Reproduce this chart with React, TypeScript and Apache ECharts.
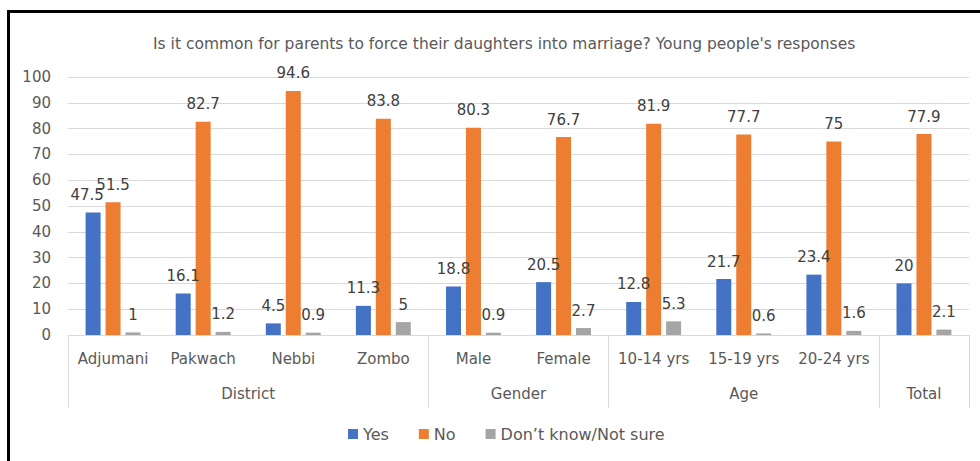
import React, { useEffect, useRef } from "react";
import * as echarts from "echarts";

const categories = [
  "Adjumani",
  "Pakwach",
  "Nebbi",
  "Zombo",
  "Male",
  "Female",
  "10-14 yrs",
  "15-19 yrs",
  "20-24 yrs",
  "",
];

// Outer grouping: name, first index, count
const groupNames = ["District", "Gender", "Age", "Total"];
const groupStarts = [0, 4, 6, 9];
const groupSizes = [4, 2, 3, 1];

const yesValues = [47.5, 16.1, 4.5, 11.3, 18.8, 20.5, 12.8, 21.7, 23.4, 20];
const noValues = [51.5, 82.7, 94.6, 83.8, 80.3, 76.7, 81.9, 77.7, 75, 77.9];
const dontKnowValues = [1, 1.2, 0.9, 5, 0.9, 2.7, 5.3, 0.6, 1.6, 2.1];

const titleText =
  "Is it common for parents to force their daughters into marriage? Young people's responses";

const FONT = "'DejaVu Sans', 'Noto Sans', sans-serif";
const TEXT = "#595959";
const GRID = "#d9d9d9";

export default function App() {
  const ref = useRef<HTMLDivElement>(null);

  useEffect(() => {
    if (!ref.current) return;
    const chart = echarts.init(ref.current, null, { renderer: "svg" });

    const boundaries = [...groupStarts, categories.length];
    const groupCenters = groupStarts.map((s, i) => s + groupSizes[i] / 2);

    const labelStyle = {
      show: true,
      position: "top" as const,
      distance: 10,
      color: "#404040",
      fontSize: 15,
      fontFamily: FONT,
    };

    const barSeries = (name: string, data: any[], color: string) => ({
      name,
      type: "bar" as const,
      data,
      barWidth: 15,
      barGap: "33%",
      itemStyle: { color },
      label: labelStyle,
    });

    // The Adjumani "Yes" label sits a little left so it clears its neighbour
    const yesData = yesValues.map((v, i) =>
      i === 0 ? { value: v, label: { offset: [-6, 0] } } : v
    );

    chart.setOption({
      animation: false,
      backgroundColor: "#ffffff",
      textStyle: { fontFamily: FONT },
      title: {
        text: titleText,
        left: 148,
        top: 31,
        textStyle: {
          color: TEXT,
          fontSize: 15.5,
          fontWeight: "normal",
          fontFamily: FONT,
        },
      },
      legend: {
        bottom: 14,
        left: 343,
        icon: "rect",
        itemWidth: 10,
        itemHeight: 10,
        itemGap: 30,
        textStyle: { color: TEXT, fontSize: 16, fontFamily: FONT },
        data: ["Yes", "No", "Don\u2019t know/Not sure"],
      },
      grid: { left: 68, right: 11, top: 77, bottom: 126 },
      xAxis: [
        {
          type: "category",
          data: categories,
          axisLine: { lineStyle: { color: GRID } },
          axisTick: { show: false },
          axisLabel: {
            color: TEXT,
            fontSize: 15,
            margin: 16,
            fontFamily: FONT,
            interval: 0,
          },
        },
        {
          type: "value",
          min: 0,
          max: categories.length,
          position: "bottom",
          axisLine: { show: false },
          splitLine: { show: false },
          axisTick: {
            show: true,
            customValues: boundaries,
            length: 73,
            lineStyle: { color: GRID },
          },
          axisLabel: {
            customValues: groupCenters,
            margin: 51,
            color: TEXT,
            fontSize: 15,
            fontFamily: FONT,
            formatter: (v: number) => {
              const i = groupCenters.findIndex((c) => Math.abs(c - v) < 1e-6);
              return i >= 0 ? groupNames[i] : "";
            },
          },
        },
      ],
      yAxis: {
        type: "value",
        min: 0,
        max: 100,
        interval: 10,
        axisLine: { show: false },
        axisTick: { show: false },
        splitLine: { lineStyle: { color: GRID } },
        axisLabel: { color: TEXT, fontSize: 15, margin: 17, fontFamily: FONT },
      },
      series: [
        barSeries("Yes", yesData, "#4472C4"),
        barSeries("No", noValues, "#ED7D31"),
        barSeries("Don\u2019t know/Not sure", dontKnowValues, "#A5A5A5"),
      ],
    });

    return () => chart.dispose();
  }, []);

  return (
    <div
      style={{
        position: "fixed",
        left: 0,
        top: 0,
        width: 980,
        height: 461,
        overflow: "hidden",
        background: "#ffffff",
      }}
    >
      <div ref={ref} style={{ position: "absolute", left: 0, top: 0, width: 980, height: 461 }} />
      <div
        style={{
          position: "absolute",
          left: 7,
          top: 10,
          width: 1000,
          height: 500,
          borderLeft: "3px solid #000",
          borderTop: "3px solid #000",
          pointerEvents: "none",
        }}
      />
    </div>
  );
}
